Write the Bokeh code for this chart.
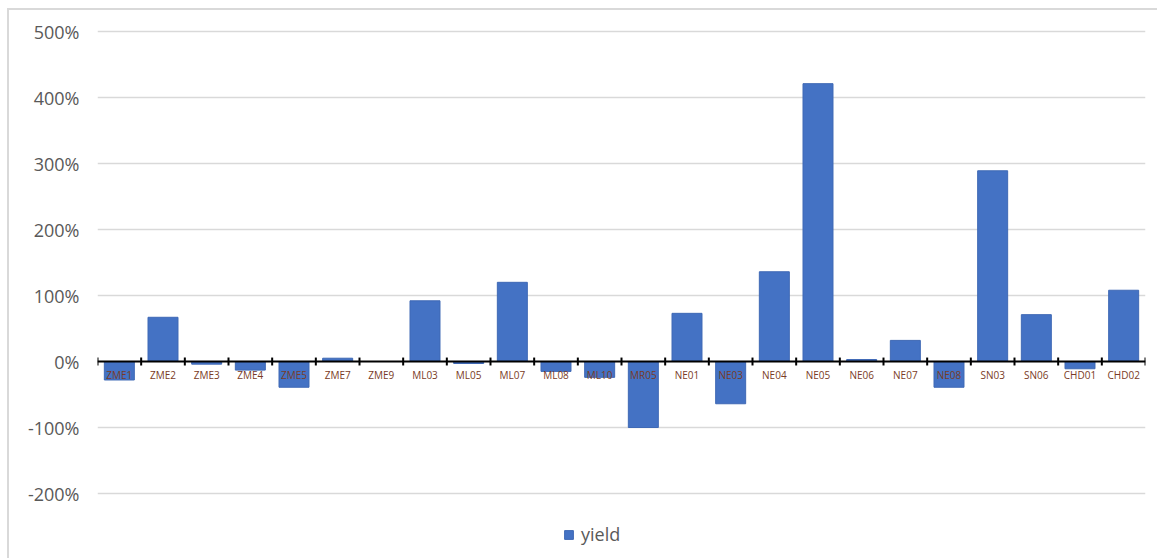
from bokeh.plotting import figure
from bokeh.models import (Range1d, FixedTicker, PrintfTickFormatter, Legend,
                          LegendItem, ColumnDataSource)
from bokeh.core.properties import value
from bokeh.embed import file_html
from bokeh.resources import INLINE

categories = ["ZME1", "ZME2", "ZME3", "ZME4", "ZME5", "ZME7", "ZME9", "ML03",
              "ML05", "ML07", "ML08", "ML10", "MR05", "NE01", "NE03", "NE04",
              "NE05", "NE06", "NE07", "NE08", "SN03", "SN06", "CHD01", "CHD02"]
yield_pct = [-28, 67, -4, -13, -39, 5, 0, 92,
             -3, 120, -15, -24, -100, 73, -64, 136,
             421, 3, 32, -39, 289, 71, -11, 108]
y_ticks = [-200, -100, 0, 100, 200, 300, 400, 500]

n = len(categories)
centers = [i + 0.5 for i in range(n)]
bounds = list(range(n + 1))

src = ColumnDataSource(dict(x=centers, top=yield_pct, cat=categories))

p = figure(width=1150, height=550, output_backend="svg", toolbar_location=None,
           x_range=Range1d(0, n), y_range=Range1d(-301.5, 516.7),
           min_border_left=88, min_border_right=14, min_border_top=10,
           min_border_bottom=0, margin=(8, 0, 0, 7))
p.styles = {"border-left": "2px solid #d9d9d9", "border-top": "2px solid #d9d9d9"}
p.outline_line_color = None
p.background_fill_color = "white"
p.border_fill_color = "white"

p.xaxis.visible = False
p.xgrid.visible = False
p.yaxis.ticker = FixedTicker(ticks=y_ticks)
p.yaxis.formatter = PrintfTickFormatter(format="%d%%")
p.yaxis.axis_line_color = None
p.yaxis.major_tick_line_color = None
p.yaxis.minor_tick_line_color = None
p.yaxis.major_tick_out = 0
p.yaxis.major_tick_in = 0
p.yaxis.major_label_standoff = 18
p.yaxis.major_label_text_font = "Open Sans"
p.yaxis.major_label_text_font_size = "18px"
p.yaxis.major_label_text_color = "#595959"
p.ygrid.ticker = FixedTicker(ticks=[t for t in y_ticks if t != 0])
p.ygrid.grid_line_color = "#d9d9d9"
p.ygrid.grid_line_width = 1.5

bars = p.vbar(x="x", top="top", bottom=0, width=0.687, source=src,
              fill_color="#4472C4", line_color="#3f69b5", line_width=1)

# category axis at zero
p.segment(x0=[0], y0=[0], x1=[n], y1=[0], line_color="black", line_width=2)
p.segment(x0=bounds, y0=[-6] * (n + 1), x1=bounds, y1=[6] * (n + 1),
          line_color="black", line_width=2)
p.text(x="x", y=0, text="cat", source=src, text_align="center",
       text_baseline="middle", y_offset=13, text_font=value("Open Sans"),
       text_font_size="10px", text_color="#7a3b26")

legend = Legend(items=[LegendItem(label="yield", renderers=[bars])],
                location=(466, 14), orientation="horizontal",
                glyph_width=11, glyph_height=11, label_height=15,
                label_standoff=7, padding=0, margin=0,
                border_line_color=None, background_fill_alpha=0,
                label_text_font="Open Sans", label_text_font_size="18px",
                label_text_color="#595959")
p.add_layout(legend, "center")

open("out.html", "w").write(file_html(p, INLINE))
